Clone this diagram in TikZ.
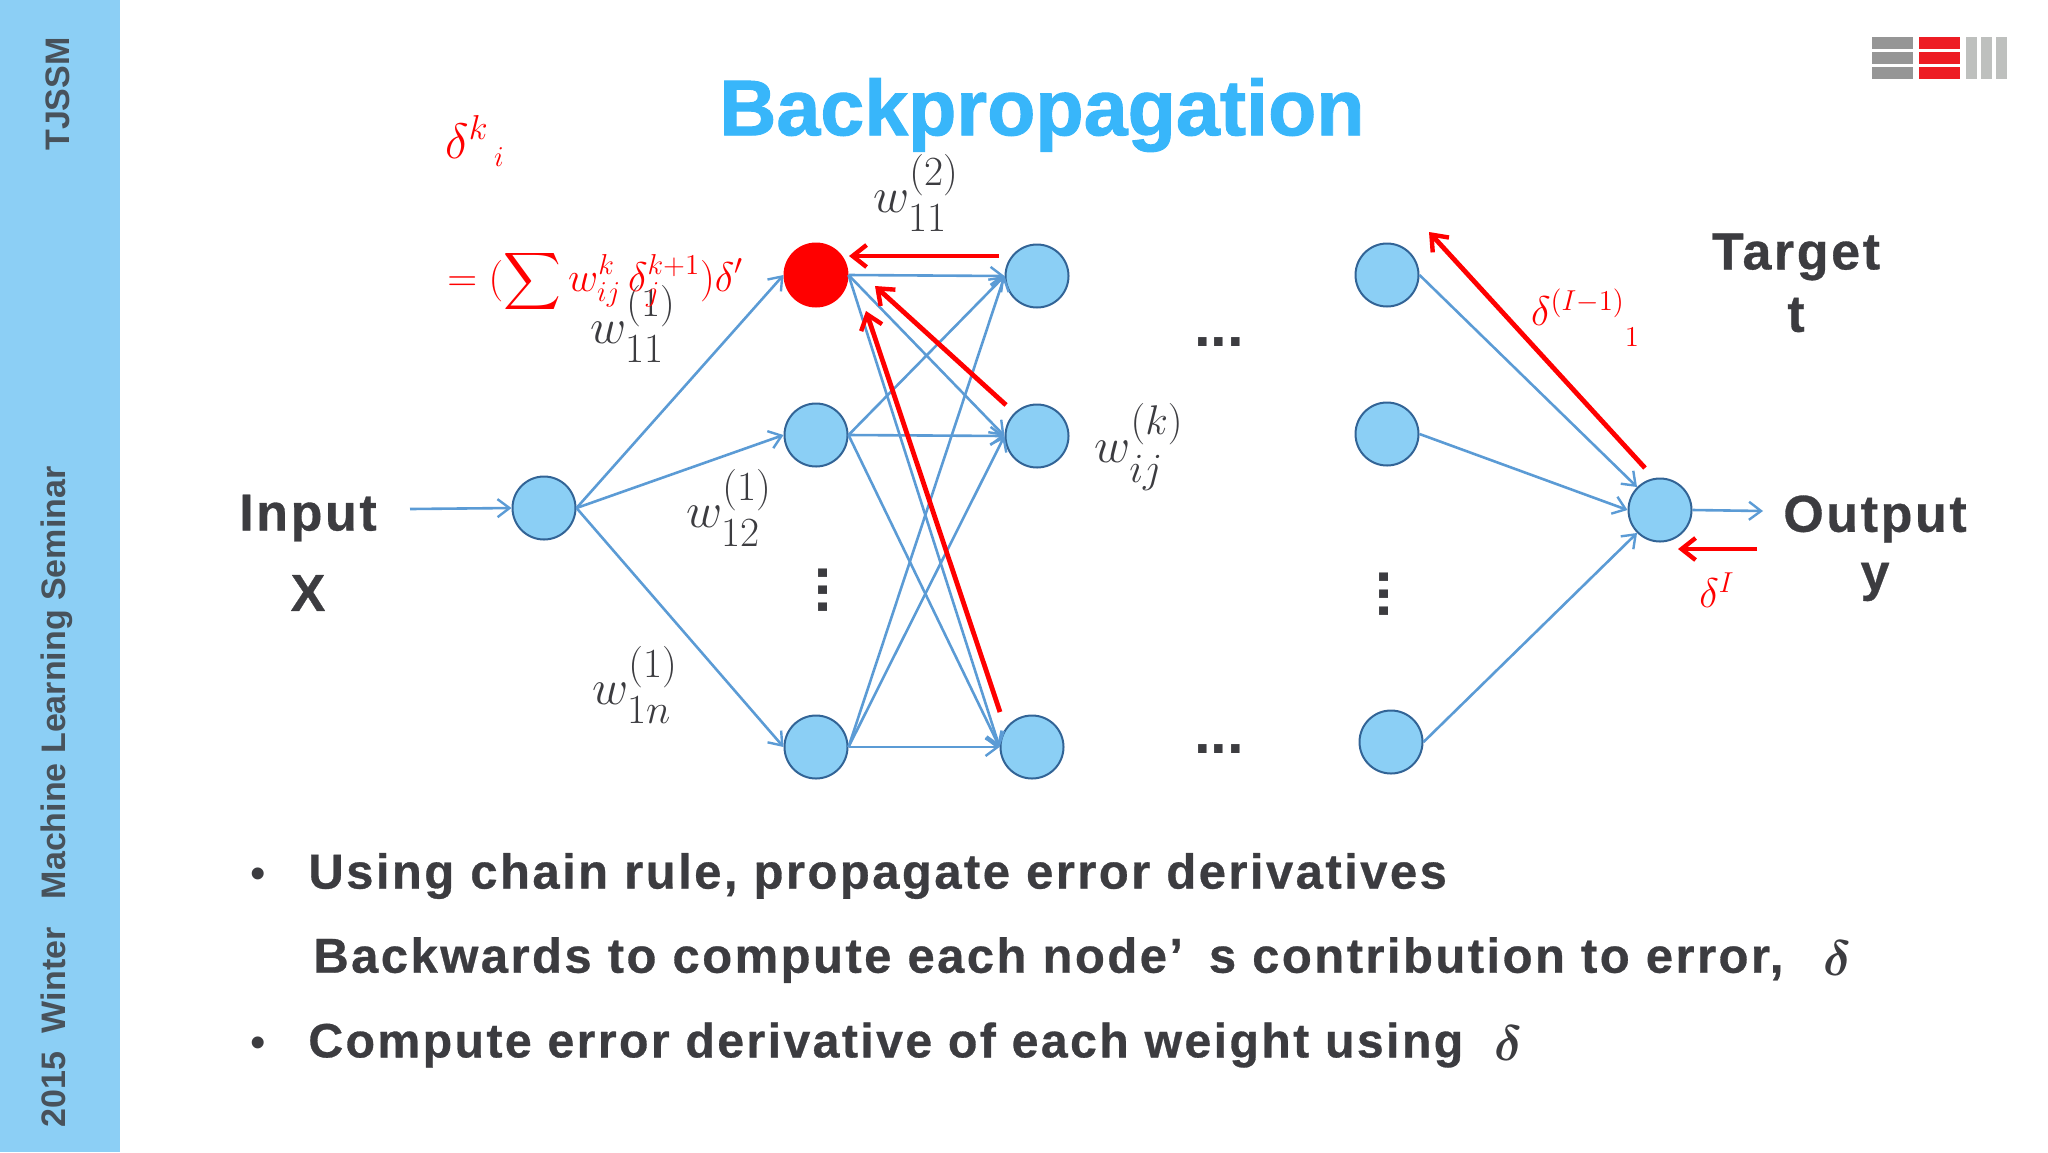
\documentclass[tikz,border=0pt]{standalone}
\usepackage{amsmath,amssymb}
\usepackage{fontspec}
\setmainfont{Liberation Sans}
\newfontfamily\spacedfont[LetterSpace=5,BoldFeatures={FakeBold=0.6}]{Liberation Sans}
\newfontfamily\titlefont[BoldFeatures={FakeBold=1.2}]{Liberation Sans}
\usepackage{tikz}
\usetikzlibrary{arrows.meta,positioning,calc}
\usepackage{xcolor}
\definecolor{barblue}{RGB}{140,207,245}
\definecolor{titleblue}{RGB}{56,182,250}
\definecolor{nodefill}{RGB}{139,207,245}
\definecolor{nodeline}{RGB}{50,100,150}
\definecolor{linkblue}{RGB}{91,155,213}
\definecolor{inkgray}{RGB}{60,60,64}
\definecolor{logogray}{RGB}{150,150,150}
\definecolor{logolight}{RGB}{190,192,190}
\definecolor{logored}{RGB}{237,28,36}
\definecolor{backred}{RGB}{255,0,0}
\tikzset{
  neuron/.style={circle,draw=nodeline,fill=nodefill,line width=1pt,minimum size=31.5pt,inner sep=0pt},
  link/.style={draw=linkblue,line width=1.3pt,-{Straight Barb[length=6pt,width=9pt,line width=1.2pt]}},
  backlink/.style={draw=backred,line width=2.4pt,-{Straight Barb[length=7pt,width=11pt,line width=2.2pt]}},
  heading/.style={font=\fontsize{26}{30}\bfseries\spacedfont,text=inkgray},
  bodyline/.style={anchor=west,font=\fontsize{24.5}{28}\bfseries\spacedfont,text=inkgray},
  weight/.style={font=\fontsize{30}{34}\selectfont,text=inkgray},
  delta/.style={font=\fontsize{21}{24}\selectfont,text=backred},
  sidetext/.style={rotate=90,font=\fontsize{17}{20}\bfseries\selectfont,text=inkgray!85!barblue}
}
\begin{document}
\begin{tikzpicture}[x=0.5pt,y=-0.5pt]
  \useasboundingbox (0,0) rectangle (2048,1152);
  % Sidebar
  \fill[barblue] (0,0) rectangle (120,1152);
  \node[sidetext] (club) at (58,94) {TJSSM};
  \node[sidetext] (seminar) at (57,797) {2015~~Winter~~~Machine Learning Seminar};
  % Logo
  \foreach \y in {37,52,67} {
    \fill[logogray] (1872,\y) rectangle (1913,\y+12);
    \fill[logored] (1919,\y) rectangle (1960,\y+12);
  }
  \foreach \x in {1966,1981,1996}
    \fill[logolight] (\x,37) rectangle (\x+11,79);
  % Title
  \node[font=\fontsize{39.5}{44}\bfseries\titlefont,text=titleblue] (title) at (1042,115) {Backpropagation};
  % Neurons
  \node[neuron] (in) at (544,508) {};
  \node[neuron,fill=backred,draw=backred] (a1) at (816,275) {};
  \node[neuron] (a2) at (816,435) {};
  \node[neuron] (a3) at (816,747) {};
  \node[neuron] (b1) at (1037,276) {};
  \node[neuron] (b2) at (1037,436) {};
  \node[neuron] (b3) at (1032,747) {};
  \node[neuron] (c1) at (1387,275) {};
  \node[neuron] (c2) at (1387,434) {};
  \node[neuron] (c3) at (1391,742) {};
  \node[neuron] (out) at (1660,510) {};
  % Forward links
  \coordinate (instart) at (410,509);
  \coordinate (outend) at (1763,511);
  \draw[link] (instart) -- (in.west);
  \draw[link] (out.east) -- (outend);
  \foreach \k in {1,2,3} {
    \draw[link] (in.east) -- (a\k.west);
    \foreach \l in {1,2,3}
      \draw[link] (a\k.east) -- (b\l.west);
  }
  \draw[link] (c1.east) -- (out.north west);
  \draw[link] (c2.east) -- (out.west);
  \draw[link] (c3.east) -- (out.south west);
  % Backward arrows
  \coordinate (r1s) at (999,256);
  \coordinate (r1e) at (849,256);
  \coordinate (r2s) at (1006,405);
  \coordinate (r2e) at (875,286);
  \coordinate (r3s) at (1000,712);
  \coordinate (r3e) at (866,311);
  \coordinate (r4s) at (1645,468);
  \coordinate (r4e) at (1429,232);
  \coordinate (r5s) at (1757,549);
  \coordinate (r5e) at (1678,549);
  \foreach \k in {1,...,5}
    \draw[backlink] (r\k s) -- (r\k e);
  % Dots
  \foreach \n/\x/\y in {dotsa/1219/342,dotsb/1219/749}
    \node[font=\fontsize{30}{30}\bfseries\selectfont,text=inkgray] (\n) at (\x,\y) {...};
  \foreach \n/\x/\y in {dotsc/823/590,dotsd/1384/594}
    \node[rotate=90,font=\fontsize{30}{30}\bfseries\selectfont,text=inkgray] (\n) at (\x,\y) {...};
  % Weights
  \node[weight] (w2) at (916,193) {$w_{11}^{(2)}$};
  \node[weight] (w11) at (633,324) {$w_{11}^{(1)}$};
  \node[weight] (w12) at (729,508) {$w_{12}^{(1)}$};
  \node[weight] (w1n) at (635,685) {$w_{1n}^{(1)}$};
  \node[weight] (wk) at (1139,447) {$w_{ij}^{(k)}$};
  % Deltas
  \node[delta,font=\fontsize{24}{26}\selectfont] (dk) at (467,137) {$\delta^{k}$};
  \node[delta,font=\fontsize{15}{16}\selectfont] (di) at (499,157) {$i$};
  \node[delta,anchor=west,inner sep=0pt,font=\fontsize{20}{24}\selectfont] (sum) at (447,281) {$\displaystyle=(\sum w_{ij}^{k}\,\delta_{j}^{k+1})\delta'$};
  \node[delta] (dl) at (1578,307) {$\delta^{(I-1)}$};
  \node[delta,font=\fontsize{14}{16}\selectfont] (dlsub) at (1632,337) {$1$};
  \node[delta,font=\fontsize{20}{24}\selectfont] (dI) at (1717,590) {$\delta^{I}$};
  % Input and output
  \node[heading] (input) at (308,518) {Input};
  \node[heading] (inx) at (308,593) {X};
  \node[heading] (target) at (1796,257) {Target};
  \node[heading] (tt) at (1796,315) {t};
  \node[heading] (output) at (1875,519) {Output};
  \node[heading] (outy) at (1875,582) {y};
  % Bullets
  \node[text=inkgray,font=\fontsize{22}{26}\selectfont] (ba) at (258,878) {•};
  \node[text=inkgray,font=\fontsize{22}{26}\selectfont] (bb) at (258,1047) {•};
  \node[bodyline,inner sep=0pt] (la) at (308,876) {Using chain rule, propagate error derivatives};
  \node[bodyline,inner sep=0pt] (lb) at (313,960) {Backwards to compute each node’\hspace{0.2em} s contribution to error,};
  \node[bodyline,inner sep=0pt,font=\fontsize{24.1}{28}\bfseries\spacedfont] (lc) at (308,1045) {Compute error derivative of each weight using};
  \node[weight,font=\fontsize{30}{34}\selectfont\boldmath] (db) at (1837,958) {$\delta$};
  \node[weight,font=\fontsize{30}{34}\selectfont\boldmath] (dc) at (1508,1043) {$\delta$};
\end{tikzpicture}
\end{document}
